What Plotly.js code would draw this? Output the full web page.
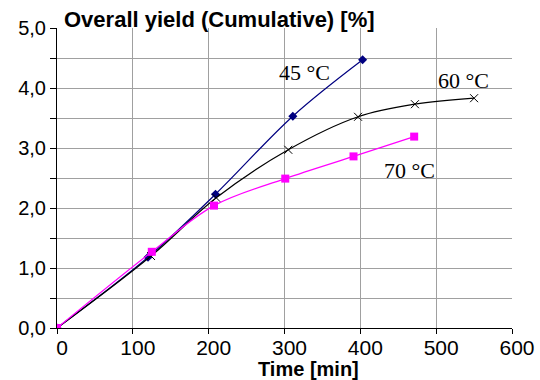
<!DOCTYPE html>
<html><head><meta charset="utf-8">
<script src="https://cdn.plot.ly/plotly-3.0.1.min.js"></script>
<style>html,body{margin:0;padding:0;background:#fff}#c{width:540px;height:380px}</style>
</head><body><div id="c"></div>
<script>
const t45 = [0, 120, 209, 311, 403];
const y45 = [0, 1.18, 2.23, 3.53, 4.47];
const t60 = [0, 124, 210, 305, 397, 472, 550];
const y60 = [0, 1.20, 2.17, 2.97, 3.52, 3.73, 3.83];
const t70 = [0, 125, 207, 301, 391, 471];
const y70 = [0, 1.27, 2.04, 2.49, 2.86, 3.19];
const seriesNames = ['45 °C', '60 °C', '70 °C'];
const yTicks = [0, 1, 2, 3, 4, 5];
const xTicks = [0, 100, 200, 300, 400, 500, 600];

const traces = [
  {x: t45, y: y45, name: seriesNames[0], mode: 'lines+markers', line: {color: '#000080', width: 1.2, shape: 'spline'},
   marker: {symbol: 'diamond', size: 7, color: '#000080'}},
  {x: t60, y: y60, name: seriesNames[1], mode: 'lines+markers', line: {color: '#000000', width: 1.2, shape: 'spline'},
   marker: {symbol: 'x-thin-open', size: 8, color: '#000000', line: {width: 1, color: '#000000'}}},
  {x: t70, y: y70, name: seriesNames[2], mode: 'lines+markers', line: {color: '#ff00ff', width: 1.2, shape: 'spline'},
   marker: {symbol: 'square', size: 8, color: '#ff00ff'}}
];

const serif = 'Liberation Serif, Times New Roman, serif';
const layout = {
  width: 540, height: 380,
  margin: {l: 57, r: 28, t: 28, b: 52},
  paper_bgcolor: '#fff', plot_bgcolor: '#fff',
  separators: ', ',
  showlegend: false,
  font: {family: 'Liberation Sans, Arial, sans-serif', color: '#000', size: 20},
  xaxis: {
    range: [0, 600], tickvals: xTicks, ticktext: xTicks.map(String),
    showgrid: true, gridcolor: '#a0a0a0', gridwidth: 1,
    showline: true, linecolor: '#000', linewidth: 1,
    ticks: 'outside', ticklen: 5, tickcolor: '#000',
    ticklabelstandoff: -4, ticklabelshift: 5,
    zeroline: false, tickfont: {size: 21}
  },
  yaxis: {
    range: [0, 5], tickvals: yTicks, ticktext: yTicks.map(v => v.toFixed(1).replace('.', ',')),
    showgrid: true, gridcolor: '#a0a0a0', gridwidth: 1,
    showline: true, linecolor: '#000', linewidth: 1,
    ticks: 'outside', ticklen: 6, tickcolor: '#000',
    minor: {dtick: 0.5, showgrid: true, gridcolor: '#a0a0a0', gridwidth: 1, ticks: 'outside', ticklen: 6, tickcolor: '#000'},
    zeroline: false, tickfont: {size: 20}
  },
  annotations: [
    {xref: 'paper', yref: 'paper', x: 0.01, y: 1.0, xanchor: 'left', yanchor: 'bottom', yshift: -6,
     text: '<b>Overall yield (Cumulative) [%]</b>', showarrow: false, font: {size: 22}},
    {xref: 'paper', yref: 'paper', x: 0.553, y: 0, xanchor: 'center', yanchor: 'top', yshift: -28,
     text: '<b>Time [min]</b>', showarrow: false, font: {size: 20}},
    {x: 326, y: 4.26, text: seriesNames[0], showarrow: false, font: {family: serif, size: 22}},
    {x: 536, y: 4.12, text: seriesNames[1], showarrow: false, font: {family: serif, size: 22}},
    {x: 465, y: 2.62, text: seriesNames[2], showarrow: false, font: {family: serif, size: 22}}
  ]
};
Plotly.newPlot('c', traces, layout, {displayModeBar: false, staticPlot: true});
</script></body></html>
